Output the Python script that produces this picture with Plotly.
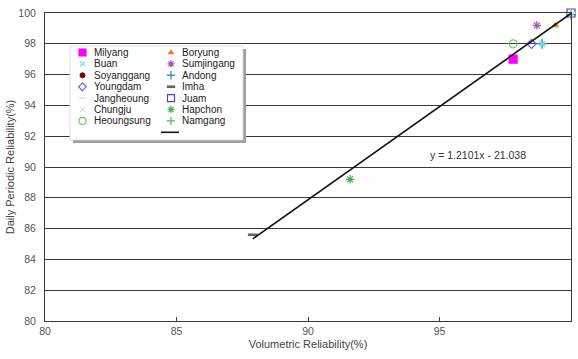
import plotly.graph_objects as go

# Reservoir reliability: volumetric vs daily periodic (%)
stations = ["Milyang", "Buan", "Soyanggang", "Youngdam", "Jangheoung", "Chungju",
            "Heoungsung", "Boryung", "Sumjingang", "Andong", "Imha", "Juam",
            "Hapchon", "Namgang"]
volumetric = [97.8, 98.9, 97.8, 98.5, 100.0, 98.9, 97.8, 99.4, 98.7, 98.9, 87.9,
              100.0, 91.6, 100.0]
daily_periodic = [97.0, 98.0, 97.0, 98.0, 100.0, 98.0, 98.0, 99.2, 99.2, 98.0, 85.6,
                  100.0, 89.2, 99.9]

# Linear trend reported on the chart
slope = 1.2101
intercept = -21.038

x_ticks = [80, 85, 90, 95, 100]
y_ticks = [80, 82, 84, 86, 88, 90, 92, 94, 96, 98, 100]

# Marker style per station
styles = {
    "Milyang":    dict(symbol="square", color="#ff00ff", size=8, lw=1.2),
    "Buan":       dict(symbol="x-thin-open", color="#66e0f0", size=6, lw=1.2),
    "Soyanggang": dict(symbol="circle", color="#7a0000", size=5, lw=1.0),
    "Youngdam":   dict(symbol="diamond-open", color="#5a64e0", size=7, lw=1.2),
    "Jangheoung": dict(symbol="line-ew-open", color="#dde8ff", size=6, lw=2.0),
    "Chungju":    dict(symbol="x-thin-open", color="#e0e0e0", size=6, lw=1.2),
    "Heoungsung": dict(symbol="circle-open", color="#66cc66", size=8, lw=1.2),
    "Boryung":    dict(symbol="triangle-up", color="#f07820", size=6, lw=1.0),
    "Sumjingang": dict(symbol="asterisk-open", color="#a050c0", size=7, lw=1.2),
    "Andong":     dict(symbol="cross-thin-open", color="#3a98b8", size=7, lw=1.4),
    "Imha":       dict(symbol="line-ew-open", color="#5a6e5a", size=7, lw=2.6),
    "Juam":       dict(symbol="square-open", color="#4848c0", size=8, lw=1.2),
    "Hapchon":    dict(symbol="asterisk-open", color="#44b044", size=7, lw=1.2),
    "Namgang":    dict(symbol="cross-thin-open", color="#44c060", size=7, lw=1.2),
}

FONT = "Liberation Sans, Arial, sans-serif"
GRID = "#3a3a3a"

fig = go.Figure()

# Station points (last listed drawn first)
for name, vx, vy in reversed(list(zip(stations, volumetric, daily_periodic))):
    st = styles[name]
    fig.add_trace(go.Scatter(
        x=[vx], y=[vy], mode="markers", name=name, showlegend=False, cliponaxis=False,
        marker=dict(symbol=st["symbol"], size=st["size"], color=st["color"],
                    line=dict(color=st["color"], width=st["lw"])),
    ))

# Trend line across the data range
x_lo, x_hi = min(volumetric), max(volumetric)
fig.add_trace(go.Scatter(
    x=[x_lo, x_hi], y=[slope * x_lo + intercept, slope * x_hi + intercept],
    mode="lines", line=dict(color="#111111", width=1.6), showlegend=False,
))

# ---- compact two-column key, laid out in plot-area pixel units ----
box_l, box_t, box_r, box_b = 25, 33, 198, 127
shadow = 3
row0, row_h = 39.5, 11.4
col_marker = [37.5, 126.0]
col_text = [48.0, 136.0]

fig.add_trace(go.Scatter(
    x=[box_l + shadow, box_r + shadow, box_r + shadow, box_l + shadow, box_l + shadow],
    y=[box_t + shadow, box_t + shadow, box_b + shadow, box_b + shadow, box_t + shadow],
    fill="toself", fillcolor="#a0a0a0", mode="lines", line=dict(width=0, color="#a0a0a0"),
    xaxis="x2", yaxis="y2", showlegend=False, hoverinfo="skip",
))
fig.add_trace(go.Scatter(
    x=[box_l, box_r, box_r, box_l, box_l],
    y=[box_t, box_t, box_b, box_b, box_t],
    fill="toself", fillcolor="white", mode="lines", line=dict(width=0.8, color="#d8d8d8"),
    xaxis="x2", yaxis="y2", showlegend=False, hoverinfo="skip",
))

per_col = 7
annotations = []
for i, name in enumerate(stations):
    col, row = divmod(i, per_col)
    st = styles[name]
    ky = row0 + row * row_h
    fig.add_trace(go.Scatter(
        x=[col_marker[col]], y=[ky], mode="markers", showlegend=False, hoverinfo="skip",
        marker=dict(symbol=st["symbol"], size=max(st["size"] - 1, 5), color=st["color"],
                    line=dict(color=st["color"], width=st["lw"])),
        xaxis="x2", yaxis="y2",
    ))
    annotations.append(dict(
        x=col_text[col], y=ky, xref="x2", yref="y2", text=name, showarrow=False,
        xanchor="left", yanchor="middle", borderpad=0,
        font=dict(family=FONT, size=10, color="#222222"),
    ))

# key sample for the trend line
ky_line = row0 + per_col * row_h
fig.add_trace(go.Scatter(
    x=[col_marker[1] - 10, col_marker[1] + 8], y=[ky_line, ky_line], mode="lines",
    line=dict(color="#111111", width=1.6), showlegend=False, hoverinfo="skip",
    xaxis="x2", yaxis="y2",
))

# Trend equation label
annotations.append(dict(
    x=96.45, y=90.8, xref="x", yref="y",
    text=f"y = {slope:.4f}x - {abs(intercept):.3f}", showarrow=False,
    xanchor="center", yanchor="middle", font=dict(family=FONT, size=10.5, color="#333333"),
))

fig.update_layout(
    width=578, height=359,
    margin=dict(l=45, r=7, t=13, b=38),
    paper_bgcolor="white", plot_bgcolor="white",
    font=dict(family=FONT, size=10.5, color="#444444"),
    showlegend=False,
    annotations=annotations,
    xaxis=dict(
        range=[80, 100], tickvals=x_ticks, ticktext=[str(v) for v in x_ticks],
        showgrid=False, zeroline=False, showline=True, linecolor=GRID, linewidth=1,
        mirror=True, ticks="inside", ticklen=4, tickcolor=GRID,
        tickfont=dict(family=FONT, size=10.5, color="#555555"),
        title=dict(text="Volumetric Reliability(%)", standoff=4,
                   font=dict(family=FONT, size=11, color="#444444")),
    ),
    yaxis=dict(
        range=[80, 100], tickvals=y_ticks, ticktext=[str(v) for v in y_ticks],
        showgrid=True, gridcolor=GRID, gridwidth=1, zeroline=False,
        showline=True, linecolor=GRID, linewidth=1, mirror=True, ticks="",
        ticklabelstandoff=6,
        tickfont=dict(family=FONT, size=10.5, color="#555555"),
        title=dict(text="Daily Periodic Reliability(%)", standoff=1,
                   font=dict(family=FONT, size=11, color="#444444")),
    ),
    xaxis2=dict(overlaying="x", anchor="y2", range=[0, 526], visible=False, fixedrange=True),
    yaxis2=dict(overlaying="y", anchor="x2", range=[308, 0], visible=False, fixedrange=True),
)

fig.write_html("out.html")
